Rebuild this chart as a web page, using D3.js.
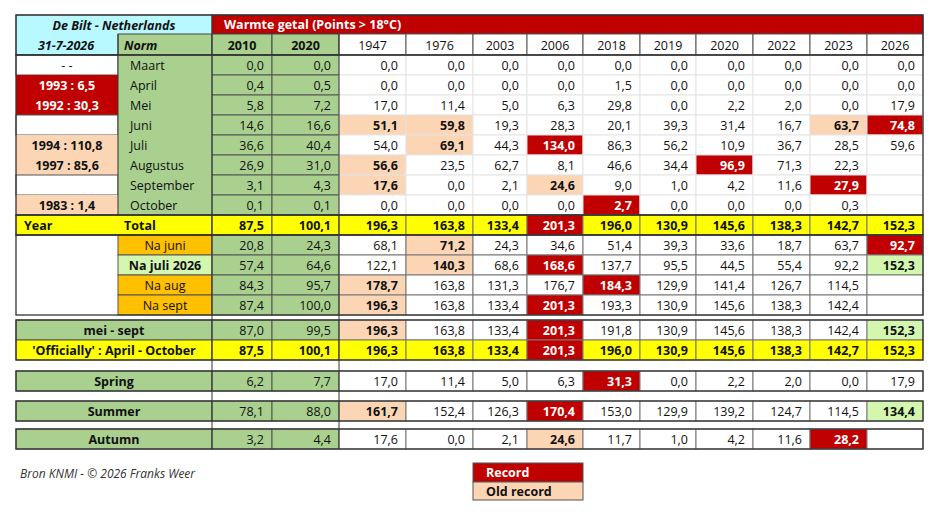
<!DOCTYPE html>
<html><head><meta charset="utf-8">
<script src="https://cdn.jsdelivr.net/npm/d3@7"></script>
<style>body{margin:0;background:#fff}svg{font-family:"Open Sans",sans-serif}</style>
</head><body><svg id="c" width="936" height="515"></svg>
<script>
// data
const years = ["1947","1976","2003","2006","2018","2019","2020","2022","2023","2026"];
const rowLabels = ["Maart","April","Mei","Juni","Juli","Augustus","September","October","Total",
  "Na juni","Na juli 2026","Na aug","Na sept","mei - sept","'Officially' :  April - October","Spring","Summer","Autumn"];
const norm2010 = [0.0,0.4,5.8,14.6,36.6,26.9,3.1,0.1,87.5,20.8,57.4,84.3,87.4,87.0,87.5,6.2,78.1,3.2];
const norm2020 = [0.0,0.5,7.2,16.6,40.4,31.0,4.3,0.1,100.1,24.3,64.6,95.7,100.0,99.5,100.1,7.7,88.0,4.4];
const values = [
  [0,0,0,0,0,0,0,0,0,0],
  [0,0,0,0,1.5,0,0,0,0,0],
  [17.0,11.4,5.0,6.3,29.8,0,2.2,2.0,0,17.9],
  [51.1,59.8,19.3,28.3,20.1,39.3,31.4,16.7,63.7,74.8],
  [54.0,69.1,44.3,134.0,86.3,56.2,10.9,36.7,28.5,59.6],
  [56.6,23.5,62.7,8.1,46.6,34.4,96.9,71.3,22.3,null],
  [17.6,0,2.1,24.6,9.0,1.0,4.2,11.6,27.9,null],
  [0,0,0,0,2.7,0,0,0,0.3,null],
  [196.3,163.8,133.4,201.3,196.0,130.9,145.6,138.3,142.7,152.3],
  [68.1,71.2,24.3,34.6,51.4,39.3,33.6,18.7,63.7,92.7],
  [122.1,140.3,68.6,168.6,137.7,95.5,44.5,55.4,92.2,152.3],
  [178.7,163.8,131.3,176.7,184.3,129.9,141.4,126.7,114.5,null],
  [196.3,163.8,133.4,201.3,193.3,130.9,145.6,138.3,142.4,null],
  [196.3,163.8,133.4,201.3,191.8,130.9,145.6,138.3,142.4,152.3],
  [196.3,163.8,133.4,201.3,196.0,130.9,145.6,138.3,142.7,152.3],
  [17.0,11.4,5.0,6.3,31.3,0,2.2,2.0,0,17.9],
  [161.7,152.4,126.3,170.4,153.0,129.9,139.2,124.7,114.5,134.4],
  [17.6,0,2.1,24.6,11.7,1.0,4.2,11.6,28.2,null]
];
// r = record, o = old record, g = current year, - = plain
const marks = [
  "----------","----------","----------","oo------or","-o-r------","o-----r---","o--o----r-","----r-----",
  "---r------","-o-------r","-o-r-----g","o---r-----","o--r------","o--r-----g","---r------",
  "----r-----","o--r-----g","---o----r-"];
const sideNotes = ["- -","1993 :   6,5","1992 : 30,3","","1994 : 110,8","1997 :   85,6","","1983 :   1,4"];
const sideKind = ["w","r","r","w","o","o","w","o"];

// layout
const C = {red:"#c00000", old:"#fcd5b4", green:"#a9d08e", yellow:"#ffff00", cyan:"#b7f9ff", orange:"#ffc000", lgreen:"#d4f7b0"};
const svg = d3.select("#c");
const fmt = v => v == null ? "" : d3.format(".1f")(v).replace(".", ",");
const colKeys = ["A","N","n2010","n2020"].concat(years);
const colEdges = [16,118,212,272,339,406,473,527,583,640,696,753,810,867,923];
const x = d3.scaleOrdinal().domain(colKeys).range(colEdges.slice(0,-1));
const w = k => colEdges[colKeys.indexOf(k)+1] - x(k);
const rowTops = [55,75,95,115,135,155,175,195,215,235,255,275,295,320,340,371,401,429];
const y = d3.scaleOrdinal().domain(d3.range(rowLabels.length)).range(rowTops);
const rh = i => i === 15 || i === 16 ? 20 : 20;

function cell(cx, cy, cw, chh, fill, stroke) {
  svg.append("rect").attr("x",cx).attr("y",cy).attr("width",cw).attr("height",chh)
    .attr("fill",fill).attr("stroke",stroke||"#b4b4b4").attr("stroke-width",1);
}
function txt(tx, ty, s, o) {
  o = o || {};
  svg.append("text").attr("x",tx).attr("y",ty).attr("text-anchor",o.anchor||"end")
    .attr("font-size",o.size||12.5).attr("font-weight",o.bold?"bold":"normal")
    .attr("font-style",o.italic?"italic":"normal").attr("fill",o.color||"#111").text(s);
}

// header
cell(16,15,196,40,C.cyan,"#555");
txt(114,30,"De Bilt - Netherlands",{anchor:"middle",bold:true,italic:true});
txt(66,50,"31-7-2026",{anchor:"middle",bold:true,italic:true});
cell(212,15,711,19,C.red,"#333");
txt(224,29,"Warmte getal (Points > 18°C)",{anchor:"start",bold:true,color:"#fff"});
cell(x("N"),34,w("N"),21,C.green,"#444");
txt(x("N")+6,50,"Norm",{anchor:"start",bold:true,italic:true});
["n2010","n2020"].forEach((k,i) => { cell(x(k),34,w(k),21,C.green,"#444");
  txt(x(k)+w(k)/2,50,["2010","2020"][i],{anchor:"middle",bold:true}); });
years.forEach(k => { cell(x(k),34,w(k),21,"#fff","#555"); txt(x(k)+w(k)/2,50,k,{anchor:"middle"}); });

// side column
sideNotes.forEach((s,i) => {
  const f = sideKind[i]==="r" ? C.red : sideKind[i]==="o" ? C.old : "#fff";
  cell(16,y(i),102,20,f,sideKind[i]==="w"?"#555":"none");
  txt(67,y(i)+15,s,{anchor:"middle",bold:sideKind[i]!=="w",color:sideKind[i]==="r"?"#fff":"#111"});
});
cell(16,235,102,80,"#fff","none");

rowLabels.forEach((lab,i) => {
  const top = y(i), h = rh(i);
  const total = i === 8 || i === 14;
  const bold = total;
  // label cells
  if (i < 8) {
    cell(x("N"),top,w("N"),h,C.green,"none");
    txt(x("N")+12,top+15,lab,{anchor:"start"});
  } else if (i === 8) {
    cell(16,top,196,h,C.yellow,"#555");
    txt(24,top+15,"Year",{anchor:"start",bold:true});
    txt(x("N")+6,top+15,"Total",{anchor:"start",bold:true});
  } else if (i < 13) {
    const f = i === 10 ? C.lgreen : C.orange;
    cell(x("N"),top,w("N"),h,f,"#555");
    txt(x("N")+w("N")/2,top+15,lab,{anchor:"middle",bold:i===10});
  } else {
    cell(16,top,196,h,total?C.yellow:C.green,"#555");
    txt(114,top+15,lab,{anchor:"middle",bold:true});
  }
  // norms
  [["n2010",norm2010],["n2020",norm2020]].forEach(([k,arr]) => {
    cell(x(k),top,w(k),h,total?C.yellow:C.green,"#555");
    txt(x(k)+w(k)-8,top+15,fmt(arr[i]),{bold:bold});
  });
  // years
  years.forEach((k,j) => {
    const m = marks[i][j], v = values[i][j];
    let f = total ? C.yellow : "#fff", col = "#111", b = bold;
    if (m==="r") { f = C.red; col = "#fff"; b = true; }
    else if (m==="o") { f = C.old; b = true; }
    else if (m==="g") { f = C.lgreen; b = true; }
    cell(x(k),top,w(k),h,f,i<8 ? "#e4e4e4" : "#777");
    txt(x(k)+w(k)-8,top+15,fmt(v),{bold:b,color:col});
  });
});
// section outlines
[[15,55],[55,215],[215,235],[235,315],[320,360],[371,391],[401,421],[429,449]].forEach(([a,b]) =>
  svg.append("rect").attr("x",16).attr("y",a).attr("width",907).attr("height",b-a)
    .attr("fill","none").attr("stroke","#333").attr("stroke-width",1.3));
svg.append("line").attr("x1",x("n2010")).attr("x2",x("n2010")).attr("y1",34).attr("y2",449).attr("stroke","#333");
svg.append("line").attr("x1",x("1947")).attr("x2",x("1947")).attr("y1",34).attr("y2",449).attr("stroke","#333");
svg.append("line").attr("x1",x("N")).attr("x2",x("N")).attr("y1",34).attr("y2",215).attr("stroke","#333");

// footer + legend
txt(20,478,"Bron KNMI   -  © 2026 Franks Weer",{anchor:"start",italic:true,size:12,color:"#333"});
cell(473,463,110,19,C.red,"#555");
txt(486,477,"Record",{anchor:"start",bold:true,color:"#fff"});
cell(473,482,110,18,C.old,"#555");
txt(486,496,"Old record",{anchor:"start",bold:true});
</script></body></html>
